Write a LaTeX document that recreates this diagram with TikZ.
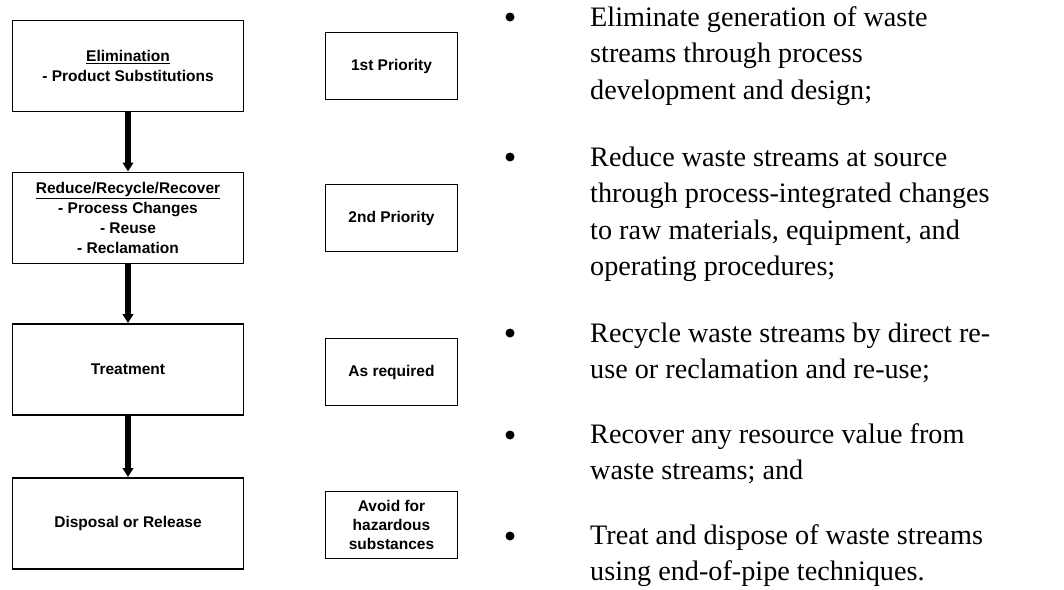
\documentclass[tikz,border=0pt]{standalone}
\usepackage{fontspec}
\setmainfont{Liberation Serif}
\setsansfont{Liberation Sans}
\usetikzlibrary{arrows.meta}
\begin{document}
\begin{tikzpicture}[x=1pt,y=-1pt,
  box/.style={draw, line width=1.9pt, minimum width=231pt, minimum height=91pt, inner sep=0pt, align=center,
    font=\sffamily\bfseries\fontsize{15.5}{20}\selectfont},
  pbox/.style={draw, line width=1.9pt, minimum width=132pt, minimum height=67pt, inner sep=0pt, align=center,
    font=\sffamily\bfseries\fontsize{15.5}{19}\selectfont},
  flow/.style={line width=5.5pt, -{Triangle[length=9pt,width=10.5pt]}},
  item/.style={anchor=base west, align=left, inner sep=0pt, font=\fontsize{28.2}{36.5}\selectfont},
  dot/.style={circle, fill, inner sep=0pt, minimum size=9pt}]
\useasboundingbox (0,0) rectangle (1064,589);
% left flow boxes
\node[box] (b1) at (128,66) {\underline{Elimination}\\- Product Substitutions};
\node[box] (b2) at (128,218) {\underline{Reduce/Recycle/Recover}\\- Process Changes\\- Reuse\\- Reclamation};
\node[box] (b3) at (128,369.5) {Treatment};
\node[box] (b4) at (128,523.5) {Disposal or Release};
\draw[flow] (b1.south) -- (b2.north);
\draw[flow] (b2.south) -- (b3.north);
\draw[flow] (b3.south) -- (b4.north);
% priority boxes
\node[pbox] (p1) at (391.5,66) {1st Priority};
\node[pbox] (p2) at (391.5,218) {2nd Priority};
\node[pbox] (p3) at (391.5,372) {As required};
\node[pbox] (p4) at (391.5,525) {Avoid for\\hazardous\\substances};
% bullets
\node[dot] (d1) at (510,17) {};
\node[dot] (d2) at (510,157) {};
\node[dot] (d3) at (510,333) {};
\node[dot] (d4) at (510,435) {};
\node[dot] (d5) at (510,536) {};
% texts (anchored at the baseline of their last line)
\node[item] (t1) at (590,99) {Eliminate generation of waste\\streams through process\\development and design;};
\node[item] (t2) at (590,275.5) {Reduce waste streams at source\\through process-integrated changes\\to raw materials, equipment, and\\operating procedures;};
\node[item] (t3) at (590,378.5) {Recycle waste streams by direct re-\\use or reclamation and re-use;};
\node[item] (t4) at (590,479.5) {Recover any resource value from\\waste streams; and};
\node[item] (t5) at (590,580.5) {Treat and dispose of waste streams\\using end-of-pipe techniques.};
\end{tikzpicture}
\end{document}
